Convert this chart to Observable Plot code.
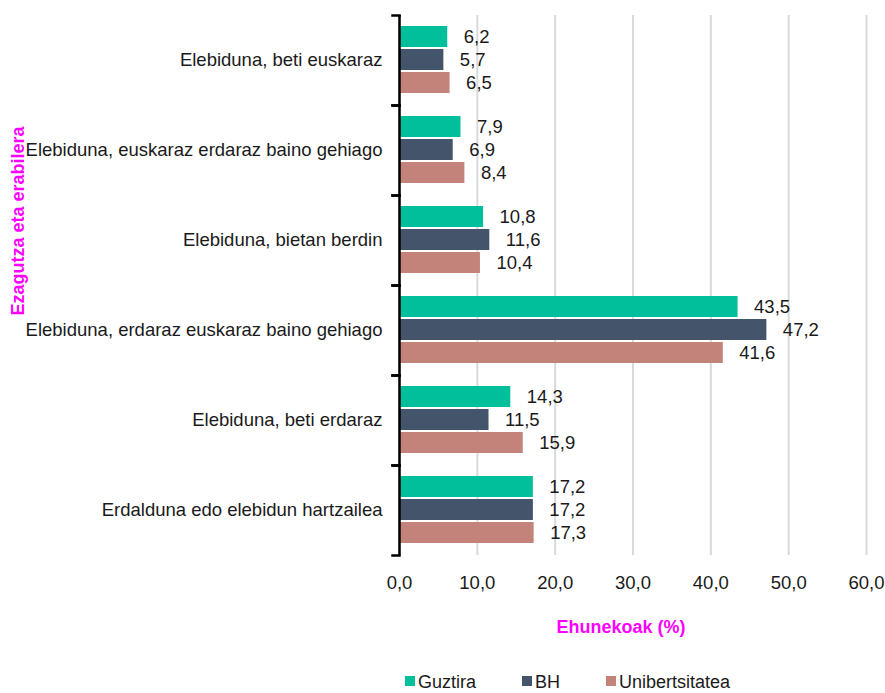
<!DOCTYPE html>
<html><head><meta charset="utf-8">
<script src="https://cdn.jsdelivr.net/npm/d3@7"></script>
<script src="https://cdn.jsdelivr.net/npm/@observablehq/plot@0.6"></script>
<style>
body{margin:0;background:#fff;font-family:"Liberation Sans",Arial,sans-serif;}
#wrap{position:relative;width:885px;height:693px;overflow:hidden;}
#ytitle{position:absolute;left:18px;top:221px;transform:translate(-50%,-50%) rotate(-90deg);white-space:nowrap;color:#ff00ff;font-weight:bold;font-size:18px;}
#xtitle{position:absolute;left:621px;top:627px;transform:translate(-50%,-50%);white-space:nowrap;color:#ff00ff;font-weight:bold;font-size:18px;}
#legend{position:absolute;left:405px;top:672px;display:flex;gap:46px;font-size:18px;line-height:20px;color:#1a1a1a;white-space:nowrap;}
#legend span.sw{display:inline-block;width:10px;height:10px;margin-right:3px;vertical-align:middle;position:relative;top:-2px;}
</style></head><body>
<div id="wrap"><div id="chart"></div>
<div id="ytitle">Ezagutza eta erabilera</div>
<div id="xtitle">Ehunekoak (%)</div>
<div id="legend"></div></div>
<script>
const categories = [
  "Elebiduna, beti euskaraz",
  "Elebiduna, euskaraz erdaraz baino gehiago",
  "Elebiduna, bietan berdin",
  "Elebiduna, erdaraz euskaraz baino gehiago",
  "Elebiduna, beti erdaraz",
  "Erdalduna edo elebidun hartzailea"
];
const series = ["Guztira", "BH", "Unibertsitatea"];
const guztira = [6.2, 7.9, 10.8, 43.5, 14.3, 17.2];
const bh = [5.7, 6.9, 11.6, 47.2, 11.5, 17.2];
const unibertsitatea = [6.5, 8.4, 10.4, 41.6, 15.9, 17.3];
const xTicks = [0, 10, 20, 30, 40, 50, 60];
const colors = ["#00BF9A", "#44546A", "#C3837A"];

const values = [guztira, bh, unibertsitatea];
const data = categories.flatMap((c, i) => series.map((s, j) => ({category: c, series: s, value: values[j][i]})));
const fmt = v => d3.format(".1f")(v).replace(".", ",");

const W = 885, H = 665, mL = 399, mR = 19, mT = 14, mB = 110;
const plot = Plot.plot({
  width: W, height: H, marginLeft: mL, marginRight: mR, marginTop: mT, marginBottom: mB,
  style: {fontFamily: "'Liberation Sans', Arial, sans-serif", fontSize: "18.5px", color: "#1a1a1a", background: "transparent"},
  x: {domain: [0, 60], ticks: xTicks, tickFormat: fmt},
  y: {domain: series, axis: null, paddingInner: 0.07, paddingOuter: 0.46},
  fy: {domain: categories, padding: 0},
  color: {domain: series, range: colors},
  marks: [
    Plot.gridX(xTicks, {stroke: "#d9d9d9", strokeOpacity: 1, strokeWidth: 2}),
    Plot.barX(data, {x: "value", y: "series", fy: "category", fill: "series"}),
    Plot.text(data, {x: "value", y: "series", fy: "category", text: d => fmt(d.value), textAnchor: "start", dx: 16, fill: "#1a1a1a", fontSize: 18.5}),
    Plot.ruleX([0], {stroke: "#000", strokeWidth: 2.5}),
    Plot.frame({anchor: "top", insetLeft: -7, insetRight: W - mL - mR, stroke: "#000", strokeWidth: 2.5}),
    Plot.frame({anchor: "bottom", insetLeft: -7, insetRight: W - mL - mR, stroke: "#000", strokeWidth: 2.5}),
    Plot.axisX({ticks: xTicks, tickSize: 0, tickPadding: 20, tickFormat: fmt, label: null, fontSize: 18.5}),
    Plot.axisFy({anchor: "left", tickSize: 0, tickPadding: 17, label: null, fontSize: 18.5})
  ]
});
document.getElementById("chart").appendChild(plot);

const legend = document.getElementById("legend");
series.forEach((s, i) => {
  const item = document.createElement("div");
  const sw = document.createElement("span");
  sw.className = "sw";
  sw.style.background = colors[i];
  item.appendChild(sw);
  item.appendChild(document.createTextNode(s));
  legend.appendChild(item);
});
</script>
</body></html>
